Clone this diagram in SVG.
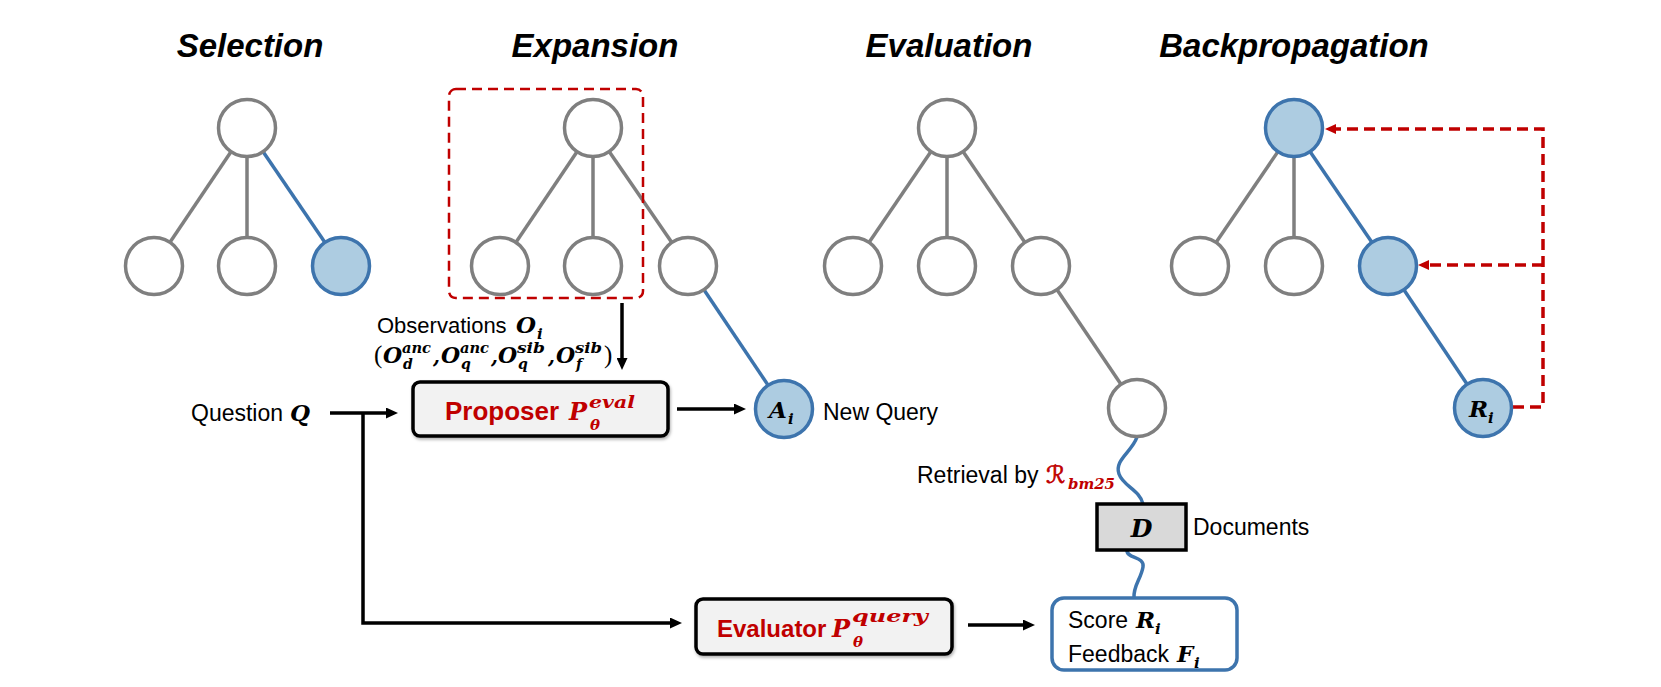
<svg xmlns="http://www.w3.org/2000/svg" width="1661" height="687" viewBox="0 0 1661 687">
<style>
.title{font-family:"Liberation Sans",Arial,sans-serif;font-weight:bold;font-style:italic;font-size:33px;fill:#000;text-anchor:middle}
.lbl{font-family:"Liberation Sans",Arial,sans-serif;font-size:23px;fill:#000}
.bl{font-family:"Liberation Sans",Arial,sans-serif;font-weight:bold;font-size:26px;fill:#c00000}
.m{font-family:"DejaVu Serif","Liberation Serif",serif;font-weight:bold;font-style:italic;fill:#000}
.r{fill:#c00000}
.nd{fill:#fff;stroke:#7f7f7f;stroke-width:3.5}
.nb{fill:#adcce1;stroke:#3d74ad;stroke-width:3.5}
.eg{stroke:#7f7f7f;stroke-width:3.5;fill:none}
.eb{stroke:#3d74ad;stroke-width:3.5;fill:none}
.ar{stroke:#000;stroke-width:3.5;fill:none;marker-end:url(#ah)}
.rd{stroke:#c00000;stroke-width:3.5;fill:none;stroke-dasharray:11 6}
.box{fill:#f2f2f2;stroke:#000;stroke-width:3.5;filter:url(#sh)}
</style>
<defs>
<marker id="ah" markerUnits="userSpaceOnUse" markerWidth="12" markerHeight="11" refX="0" refY="5.5" orient="auto"><path d="M0,0 L12,5.5 L0,11 z" fill="#000"/></marker>
<marker id="ahr" markerUnits="userSpaceOnUse" markerWidth="11" markerHeight="10" refX="0" refY="5" orient="auto"><path d="M0,0 L11,5 L0,10 z" fill="#c00000"/></marker>
<filter id="sh" x="-10%" y="-20%" width="120%" height="150%"><feDropShadow dx="1" dy="2" stdDeviation="1.5" flood-color="#000" flood-opacity="0.3"/></filter>
</defs>
<rect width="1661" height="687" fill="#fff"/>

<g id="titles">
<text class="title" x="250" y="57">Selection</text>
<text class="title" x="595" y="57">Expansion</text>
<text class="title" x="949" y="57">Evaluation</text>
<text class="title" x="1294" y="57">Backpropagation</text>
</g>

<g id="connectors">
<line class="eg" x1="247" y1="128" x2="154" y2="266"/>
<line class="eg" x1="247" y1="128" x2="247" y2="266"/>
<line class="eb" x1="247" y1="128" x2="341" y2="266"/>
<line class="eg" x1="593" y1="128" x2="500" y2="266"/>
<line class="eg" x1="593" y1="128" x2="593" y2="266"/>
<line class="eg" x1="593" y1="128" x2="688" y2="266"/>
<line class="eb" x1="688" y1="266" x2="784" y2="409"/>
<line class="eg" x1="947" y1="128" x2="853" y2="266"/>
<line class="eg" x1="947" y1="128" x2="947" y2="266"/>
<line class="eg" x1="947" y1="128" x2="1041" y2="266"/>
<line class="eg" x1="1041" y1="266" x2="1137" y2="408"/>
<line class="eg" x1="1294" y1="128" x2="1200" y2="266"/>
<line class="eg" x1="1294" y1="128" x2="1294" y2="266"/>
<line class="eb" x1="1294" y1="128" x2="1388" y2="266"/>
<line class="eb" x1="1388" y1="266" x2="1483" y2="408"/>
<path class="eb" d="M1137,437 C1132,452 1114,460 1119,474 C1123,486 1140,490 1143,504"/>
<path class="eb" d="M1127,550 C1126,559 1145,556 1143,567 C1141,579 1133,586 1134,598"/>
<path class="ar" d="M330,413 H386"/>
<path class="ar" d="M363,413 V623 H670"/>
<path class="ar" d="M622,303 V358"/>
<path class="ar" d="M677,409 H734"/>
<path class="ar" d="M968,625 H1023"/>
<path class="rd" d="M1513,407 H1543 V129 H1336" marker-end="url(#ahr)"/>
<path class="rd" d="M1543,265 H1429" marker-end="url(#ahr)"/>
</g>

<g id="expansion-frame">
<rect x="449" y="89" width="194" height="209" rx="7" fill="none" stroke="#c00000" stroke-width="2.5" stroke-dasharray="10 6"/>
</g>

<g id="selection-tree">
<circle class="nd" cx="247" cy="128" r="28.5"/>
<circle class="nd" cx="154" cy="266" r="28.5"/>
<circle class="nd" cx="247" cy="266" r="28.5"/>
<circle class="nb" cx="341" cy="266" r="28.5"/>
</g>

<g id="expansion-tree">
<circle class="nd" cx="593" cy="128" r="28.5"/>
<circle class="nd" cx="500" cy="266" r="28.5"/>
<circle class="nd" cx="593" cy="266" r="28.5"/>
<circle class="nd" cx="688" cy="266" r="28.5"/>
</g>

<g id="node-Ai">
<circle class="nb" cx="784" cy="409" r="28.5"/>
<text class="m" x="769" y="418" font-size="23">A</text>
<text class="m" x="788" y="424" font-size="15">i</text>
</g>

<g id="evaluation-tree">
<circle class="nd" cx="947" cy="128" r="28.5"/>
<circle class="nd" cx="853" cy="266" r="28.5"/>
<circle class="nd" cx="947" cy="266" r="28.5"/>
<circle class="nd" cx="1041" cy="266" r="28.5"/>
<circle class="nd" cx="1137" cy="408" r="28.5"/>
</g>

<g id="backprop-tree">
<circle class="nb" cx="1294" cy="128" r="28.5"/>
<circle class="nd" cx="1200" cy="266" r="28.5"/>
<circle class="nd" cx="1294" cy="266" r="28.5"/>
<circle class="nb" cx="1388" cy="266" r="28.5"/>
</g>

<g id="node-Ri">
<circle class="nb" cx="1483" cy="408" r="28.5"/>
<text class="m" x="1469" y="417" font-size="23">R</text>
<text class="m" x="1488" y="423" font-size="15">i</text>
</g>

<g id="observations">
<text class="lbl" x="377" y="333" style="font-size:22px">Observations</text>
<text class="m" x="516" y="333" font-size="23">O</text>
<text class="m" x="537" y="339" font-size="15">i</text>
<text x="374" y="363" font-family="Liberation Serif,serif" font-size="25">(</text>
<text class="m" x="383" y="363" font-size="22">O</text>
<text class="m" x="402" y="353" font-size="14" textLength="29" lengthAdjust="spacingAndGlyphs">anc</text>
<text class="m" x="403" y="369" font-size="14">d</text>
<text class="m" x="433" y="363" font-size="20">,</text>
<text class="m" x="441" y="363" font-size="22">O</text>
<text class="m" x="460" y="353" font-size="14" textLength="29" lengthAdjust="spacingAndGlyphs">anc</text>
<text class="m" x="461" y="369" font-size="14">q</text>
<text class="m" x="491" y="363" font-size="20">,</text>
<text class="m" x="498" y="363" font-size="22">O</text>
<text class="m" x="517" y="353" font-size="14" textLength="28" lengthAdjust="spacingAndGlyphs">sib</text>
<text class="m" x="518" y="369" font-size="14">q</text>
<text class="m" x="548" y="363" font-size="20">,</text>
<text class="m" x="556" y="363" font-size="22">O</text>
<text class="m" x="575" y="353" font-size="14" textLength="27" lengthAdjust="spacingAndGlyphs">sib</text>
<text class="m" x="576" y="369" font-size="14">f</text>
<text x="604" y="363" font-family="Liberation Serif,serif" font-size="25">)</text>
</g>

<g id="question">
<text class="lbl" x="191" y="421">Question</text>
<text class="m" x="290" y="421" font-size="23">Q</text>
</g>

<g id="proposer">
<rect class="box" x="413" y="382" width="255" height="54" rx="7"/>
<text class="bl" x="445" y="420">Proposer</text>
<text class="m r" x="569" y="420" font-size="24">P</text>
<text class="m r" x="589" y="408" font-size="17" textLength="46" lengthAdjust="spacingAndGlyphs">eval</text>
<text class="m r" x="590" y="430" font-size="15">θ</text>
</g>

<g id="new-query-label">
<text class="lbl" x="823" y="420">New Query</text>
</g>

<g id="retrieval-label">
<text class="lbl" x="917" y="483">Retrieval by</text>
<text x="1046" y="483" font-family="DejaVu Serif,DejaVu Sans,serif" font-size="24" fill="#c00000" stroke="#c00000" stroke-width="0.7">ℛ</text>
<text class="m r" x="1068" y="489" font-size="15" textLength="47" lengthAdjust="spacingAndGlyphs">bm25</text>
</g>

<g id="documents">
<rect x="1097" y="504" width="89" height="46" fill="#d9d9d9" stroke="#000" stroke-width="3.5"/>
<text class="m" x="1141.5" y="537" font-size="25" text-anchor="middle">D</text>
<text class="lbl" x="1193" y="535">Documents</text>
</g>

<g id="evaluator">
<rect class="box" x="696" y="599" width="256" height="55" rx="7"/>
<text class="bl" x="717" y="637" style="font-size:24px">Evaluator</text>
<text class="m r" x="832" y="637" font-size="24">P</text>
<text class="m r" x="852" y="622" font-size="17" textLength="76" lengthAdjust="spacingAndGlyphs">query</text>
<text class="m r" x="853" y="647" font-size="15">θ</text>
</g>

<g id="score-feedback">
<rect x="1052" y="598" width="185" height="72" rx="12" fill="#fff" stroke="#3d74ad" stroke-width="3.5"/>
<text class="lbl" x="1068" y="628">Score</text>
<text class="m" x="1136" y="628" font-size="23">R</text>
<text class="m" x="1155" y="634" font-size="15">i</text>
<text class="lbl" x="1068" y="662">Feedback</text>
<text class="m" x="1177" y="662" font-size="23">F</text>
<text class="m" x="1194" y="668" font-size="15">i</text>
</g>
</svg>
